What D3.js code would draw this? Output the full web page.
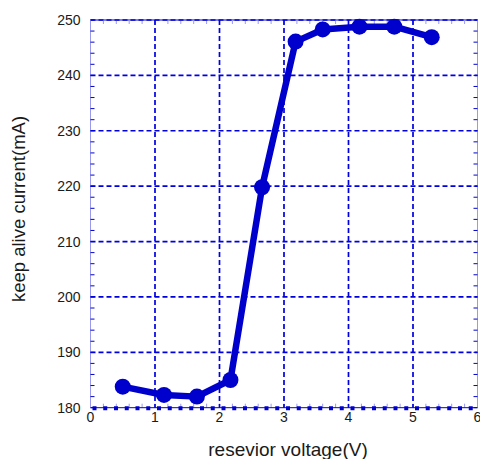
<!DOCTYPE html>
<html lang="en">
<head>
<meta charset="UTF-8">
<title>keep alive current</title>
<style>
  body { margin: 0; background: #fff; }
  text { font-family: "Liberation Sans", Arial, sans-serif; fill: #1a1a1a; }
  .tick-label { font-size: 14px; }
  .x-title { font-size: 19px; }
  .y-title { font-size: 18.5px; }
</style>
</head>
<body>
<svg width="480" height="459"></svg>
<script src="https://d3js.org/d3.v7.min.js"></script>
<script>
// data
const voltage = [0.5, 1.14, 1.65, 2.17, 2.66, 3.18, 3.6, 4.17, 4.71, 5.29];
const current = [183.8, 182.3, 182.0, 185.0, 219.8, 246.1, 248.3, 248.8, 248.8, 246.9];
const xTicks = [0, 1, 2, 3, 4, 5, 6];
const yTicks = [180, 190, 200, 210, 220, 230, 240, 250];

const blue = "#0000cc";
const grid = "#0000dd";
const pale = "#9999ee";

const svg = d3.select("svg");
const pLeft = 90.5, pRight = 477.5, pTop = 20, pBottom = 407.7;

const x = d3.scaleLinear().domain([0, 6]).range([pLeft, pRight]);
const y = d3.scaleLinear().domain([180, 250]).range([pBottom, pTop]);

const g = svg.append("g");

// frame lines
g.append("line").attr("x1", pLeft).attr("x2", pLeft).attr("y1", pTop).attr("y2", pBottom)
    .attr("stroke", pale).attr("stroke-width", 1);
g.append("line").attr("x1", pRight).attr("x2", pRight).attr("y1", pTop).attr("y2", pBottom)
    .attr("stroke", pale).attr("stroke-width", 1);
g.append("line").attr("x1", pLeft).attr("x2", pRight).attr("y1", pTop).attr("y2", pTop)
    .attr("stroke", blue).attr("stroke-width", 1);

// minor ticks
const yMinor = d3.range(180, 250.01, 2);
const xMinor = d3.range(0, 6.01, 0.2);
g.selectAll(".ytl").data(yMinor).enter().append("line")
    .attr("x1", pLeft).attr("x2", pLeft + 4)
    .attr("y1", d => y(d)).attr("y2", d => y(d))
    .attr("stroke", blue).attr("stroke-width", 1);
g.selectAll(".ytr").data(yMinor).enter().append("line")
    .attr("x1", pRight).attr("x2", pRight - 4)
    .attr("y1", d => y(d)).attr("y2", d => y(d))
    .attr("stroke", blue).attr("stroke-width", 1);
g.selectAll(".xtt").data(xMinor).enter().append("line")
    .attr("x1", d => x(d)).attr("x2", d => x(d))
    .attr("y1", pTop).attr("y2", pTop + 4)
    .attr("stroke", pale).attr("stroke-width", 1);
g.selectAll(".xtb").data(xMinor).enter().append("line")
    .attr("x1", d => x(d)).attr("x2", d => x(d))
    .attr("y1", pBottom).attr("y2", pBottom - 4)
    .attr("stroke", pale).attr("stroke-width", 1);

// dashed grid
g.selectAll(".gx").data(xTicks.slice(1, -1)).enter().append("line")
    .attr("x1", d => x(d)).attr("x2", d => x(d))
    .attr("y1", pTop).attr("y2", pBottom)
    .attr("stroke", grid).attr("stroke-width", 1.7)
    .attr("stroke-dasharray", "5,3");
g.selectAll(".gy").data(yTicks.slice(1)).enter().append("line")
    .attr("x1", pLeft).attr("x2", pRight)
    .attr("y1", d => y(d)).attr("y2", d => y(d))
    .attr("stroke", grid).attr("stroke-width", 1.7)
    .attr("stroke-dasharray", "5,3");

// bottom axis: thick dotted line
g.append("line").attr("x1", pLeft).attr("x2", pRight).attr("y1", pBottom).attr("y2", pBottom)
    .attr("stroke", blue).attr("stroke-width", 1);
g.append("line").attr("x1", pLeft + 2).attr("x2", pRight).attr("y1", pBottom + 0.5).attr("y2", pBottom + 0.5)
    .attr("stroke", blue).attr("stroke-width", 4)
    .attr("stroke-dasharray", "4,6.75");

// series
const pts = voltage.map((v, i) => [v, current[i]]);
g.append("path")
    .attr("d", d3.line().x(d => x(d[0])).y(d => y(d[1]))(pts))
    .attr("fill", "none").attr("stroke", blue)
    .attr("stroke-width", 6.5).attr("stroke-linejoin", "round");
g.selectAll(".pt").data(pts).enter().append("circle")
    .attr("cx", d => x(d[0])).attr("cy", d => y(d[1])).attr("r", 8)
    .attr("fill", blue);

// tick labels
g.selectAll(".xl").data(xTicks).enter().append("text")
    .attr("class", "tick-label")
    .attr("x", d => x(d)).attr("y", pBottom + 14.5)
    .attr("text-anchor", "middle").text(d => d);
g.selectAll(".yl").data(yTicks).enter().append("text")
    .attr("class", "tick-label")
    .attr("x", pLeft - 10).attr("y", d => y(d) + 5)
    .attr("text-anchor", "end").text(d => d);

// axis titles
svg.append("text").attr("class", "x-title")
    .attr("x", 288).attr("y", 456)
    .attr("text-anchor", "middle").text("resevior voltage(V)");
svg.append("text").attr("class", "y-title")
    .attr("transform", "translate(25,209) rotate(-90)")
    .attr("text-anchor", "middle").text("keep alive current(mA)");
</script>
</body>
</html>
